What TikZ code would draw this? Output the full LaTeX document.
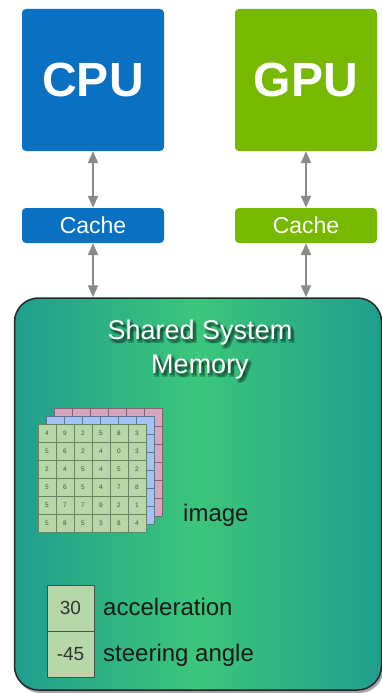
\documentclass[tikz,border=0pt]{standalone}
\usepackage{fontspec}
\setmainfont{Liberation Sans}
\usetikzlibrary{arrows.meta,shadows}

\definecolor{cpublue}{HTML}{0A70C2}
\definecolor{gpugreen}{HTML}{76B900}
\definecolor{memedge}{HTML}{1F9E8E}
\definecolor{memmid}{HTML}{3CC67A}
\definecolor{memglow}{HTML}{0B3326}
\definecolor{cellgreen}{HTML}{B6D7A8}
\definecolor{cellblue}{HTML}{A4C2F4}
\definecolor{cellpink}{HTML}{D5A6BD}
\definecolor{linkgray}{HTML}{8A8A8A}

\begin{document}
\begin{tikzpicture}[x=1pt, y=-1pt,
  unit/.style = {rounded corners=4pt, minimum width=142pt, inner sep=0pt, text=white},
  proc/.style = {unit, minimum height=142pt, font=\bfseries\fontsize{48}{48}\selectfont},
  cache/.style = {unit, minimum height=35pt, font=\fontsize{23}{23}\selectfont},
  link/.style = {{Triangle[width=10pt,length=12pt]}-{Triangle[width=10pt,length=12pt]}, linkgray, line width=2pt},
  heading/.style = {align=center, font=\fontsize{27}{34}\selectfont},
  cellnum/.style = {inner sep=0pt, font=\fontsize{6.5}{6.5}\selectfont, text=black!70},
  val/.style = {draw=black!70, line width=0.8pt, fill=cellgreen, minimum width=47pt, minimum height=46pt, inner sep=0pt, font=\fontsize{19}{19}\selectfont, text=black!80},
  lbl/.style = {anchor=west, inner sep=0pt, font=\fontsize{24}{24}\selectfont, text=black!90}]

\useasboundingbox (0,0) rectangle (382,693);

% processors and their caches
\node[proc, fill=cpublue] (cpu) at (93,80) {CPU};
\node[proc, fill=gpugreen] (gpu) at (306,80) {GPU};
\node[cache, fill=cpublue] (cpucache) at (93,225.5) {Cache};
\node[cache, fill=gpugreen] (gpucache) at (306,225.5) {Cache};

% shared memory block
\node[draw=black!85, line width=1.5pt, rounded corners=24pt,
      minimum width=367pt, minimum height=392pt, inner sep=0pt,
      left color=memedge, right color=memedge, middle color=memmid,
      drop shadow={shadow xshift=2pt, shadow yshift=-3pt, opacity=0.7}] (mem) at (198,494) {};

\draw[link] (cpu) -- (cpucache);
\draw[link] (gpu) -- (gpucache);
\draw[link] (cpucache) -- (cpucache |- mem.north);
\draw[link] (gpucache) -- (gpucache |- mem.north);

% title with a dark glow behind it
\foreach \dx/\dy [count=\i] in {1/2,3/3,3/1,1/4,4/4} {
  \node[heading, text=memglow, text opacity=0.3] (glow\i) at (200+\dx,350+\dy) {Shared System\\Memory};
}
\node[heading, text=white] (title) at (200,350) {Shared System\\Memory};

% image channels: pink, blue, green
\foreach \o/\c in {16/cellpink, 8/cellblue, 0/cellgreen} {
  \begin{scope}[shift={(38+\o,424-\o)}]
    \fill[\c] (0,0) rectangle (108,108);
    \foreach \k in {0,...,6}
      \draw[\c!60!black, line width=0.7pt] (18*\k,0) -- (18*\k,108) (0,18*\k) -- (108,18*\k);
  \end{scope}
}
\foreach \row [count=\r from 0] in {{4,9,2,5,8,3},{5,6,2,4,0,3},{2,4,5,4,5,2},{5,6,5,4,7,8},{5,7,7,9,2,1},{5,8,5,3,8,4}} {
  \foreach \v [count=\c from 0] in \row
    \node[cellnum] (n\r\c) at (47+18*\c,433+18*\r) {\v};
}
\node[lbl] (imglabel) at (183,515) {image};

% scalar values
\node[val] (acc) at (70.5,608) {30};
\node[val] (steer) at (70.5,654) {-45};
\node[lbl] (acclabel) at (103,607) {acceleration};
\node[lbl] (steerlabel) at (103,655) {steering angle};
\end{tikzpicture}
\end{document}
